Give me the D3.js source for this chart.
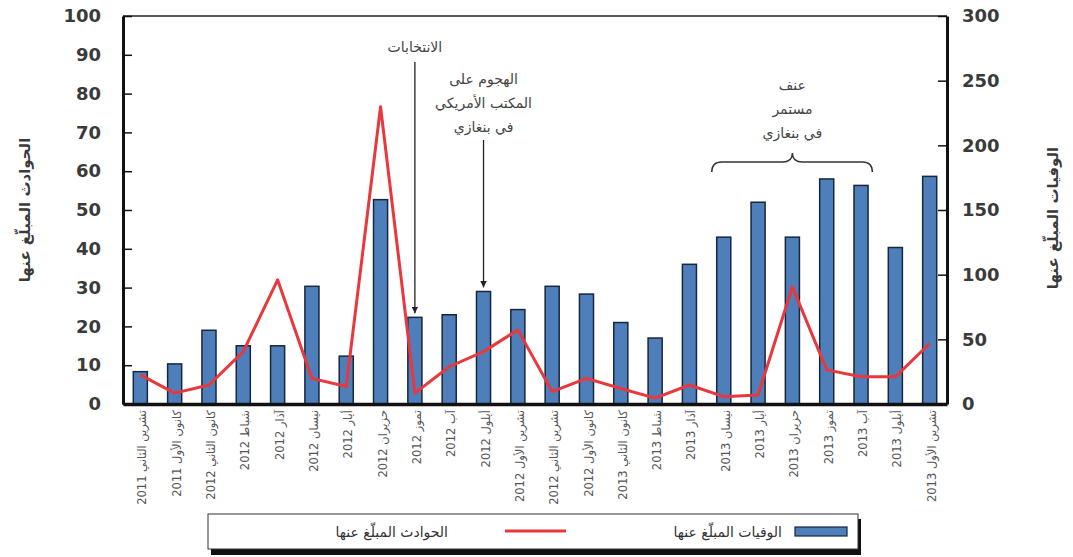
<!DOCTYPE html>
<html><head><meta charset="utf-8">
<script src="https://cdn.jsdelivr.net/npm/d3@7"></script>
<style>
html,body{margin:0;padding:0;background:#fff;}
svg{display:block;font-family:"DejaVu Sans",sans-serif;}
</style></head>
<body>
<svg id="c" width="1073" height="557"></svg>
<script>
const months = ["تشرين الثاني 2011","كانون الأول 2011","كانون الثاني 2012","شباط 2012","آذار 2012","نيسان 2012","أيار 2012","حزيران 2012","تموز 2012","آب 2012","أيلول 2012","تشرين الأول 2012","تشرين الثاني 2012","كانون الأول 2012","كانون الثاني 2013","شباط 2013","آذار 2013","نيسان 2013","أيار 2013","حزيران 2013","تموز 2013","آب 2013","أيلول 2013","تشرين الأول 2013"];
// Reported deaths (bars, right axis)
const deaths = [25,31,57,45,45,91,37,158,67,69,87,73,91,85,63,51,108,129,156,129,174,169,121,176];
// Reported incidents (line, left axis)
const incidents = [7.5,2.8,4.9,13.5,32,6.6,4.5,76.6,2.8,9.6,13.5,19.1,3.2,6.6,4,1.5,4.9,1.9,2.3,30.2,8.8,7,7,15.6];
const leftTicks = [0,10,20,30,40,50,60,70,80,90,100];
const rightTicks = [0,50,100,150,200,250,300];
const leftTitle = "الحوادث المبلّغ عنها";
const rightTitle = "الوفيات المبلّغ عنها";
const legendLabels = ["الوفيات المبلّغ عنها","الحوادث المبلّغ عنها"];
const note1 = ["الانتخابات"];
const note2 = ["الهجوم على","المكتب الأمريكي","في بنغازي"];
const note3 = ["عنف","مستمر","في بنغازي"];

const svg = d3.select("#c");
const L=123, R=947, T=16, B=404;
const barColor="#4f7fbb", barStroke="#17273d", lineColor="#e8383d", textCol="#3a3a3a";

const x = d3.scaleBand().domain(months).range([L,R]).paddingInner(0.59).paddingOuter(0.3);
const yL = d3.scaleLinear().domain([0,100]).range([B,T]);
const yR = d3.scaleLinear().domain([0,300]).range([B,T]);
const cx = m => x(m)+x.bandwidth()/2;

svg.append("defs").append("marker").attr("id","ah").attr("viewBox","0 0 10 10")
  .attr("refX",10).attr("refY",5).attr("markerWidth",5).attr("markerHeight",5)
  .attr("orient","auto").append("path").attr("d","M0,0L10,5L0,10z").attr("fill","#222");

// top border
svg.append("line").attr("x1",L).attr("x2",R).attr("y1",T).attr("y2",T).attr("stroke","#222").attr("stroke-width",1.5);

// bars
svg.append("g").selectAll("rect").data(deaths).join("rect")
  .attr("x",(d,i)=>x(months[i])).attr("width",x.bandwidth())
  .attr("y",d=>yR(d)).attr("height",d=>B-yR(d))
  .attr("fill",barColor).attr("stroke",barStroke).attr("stroke-width",1.5);

// line
svg.append("path").datum(incidents)
  .attr("d",d3.line().x((d,i)=>cx(months[i])).y(d=>yL(d)))
  .attr("fill","none").attr("stroke",lineColor).attr("stroke-width",3).attr("stroke-linejoin","round");

// left axis
const gl = svg.append("g").attr("transform",`translate(${L},0)`)
  .call(d3.axisLeft(yL).tickValues(leftTicks).tickSizeInner(-9).tickSizeOuter(0).tickPadding(22));
gl.select(".domain").attr("stroke","#111").attr("stroke-width",3);
gl.selectAll(".tick line").attr("stroke","#111").attr("stroke-width",1.5);
gl.selectAll(".tick text").attr("font-size",18).attr("font-weight","bold").attr("fill",textCol).attr("font-family","DejaVu Sans");

// right axis
const gr = svg.append("g").attr("transform",`translate(${R},0)`)
  .call(d3.axisRight(yR).tickValues(rightTicks).tickSizeInner(-9).tickSizeOuter(0).tickPadding(15));
gr.select(".domain").attr("stroke","#111").attr("stroke-width",3);
gr.selectAll(".tick line").attr("stroke","#111").attr("stroke-width",1.5);
gr.selectAll(".tick text").attr("font-size",18).attr("font-weight","bold").attr("fill",textCol).attr("font-family","DejaVu Sans");

// bottom axis
const gb = svg.append("g").attr("transform",`translate(0,${B})`)
  .call(d3.axisBottom(x).tickSize(0).tickPadding(0));
gb.select(".domain").attr("stroke","#111").attr("stroke-width",3.5);
gb.selectAll(".tick text").attr("transform","rotate(-90)").attr("x",-6).attr("y",2).attr("dy","0.35em")
  .attr("text-anchor","end").attr("font-size",11.5).attr("fill","#555").attr("font-family","DejaVu Sans");

// axis titles
svg.append("text").attr("transform","translate(30,210) rotate(-90)").attr("text-anchor","middle")
  .attr("font-size",15).attr("font-weight","bold").attr("fill",textCol).text(leftTitle);
svg.append("text").attr("transform","translate(1058,218) rotate(-90)").attr("text-anchor","middle")
  .attr("font-size",15).attr("font-weight","bold").attr("fill",textCol).text(rightTitle);

// annotations
const ann = svg.append("g").attr("fill","#444").attr("font-size",14).attr("text-anchor","middle");
const a1x = cx(months[8]);
ann.append("text").attr("x",a1x).attr("y",52).text(note1[0]);
svg.append("line").attr("x1",a1x).attr("x2",a1x).attr("y1",62).attr("y2",yR(deaths[8])-4)
  .attr("stroke","#222").attr("stroke-width",1.3).attr("marker-end","url(#ah)");
const a2x = cx(months[10]);
note2.forEach((t,i)=>ann.append("text").attr("x",a2x).attr("y",84+i*24).text(t));
svg.append("line").attr("x1",a2x).attr("x2",a2x).attr("y1",140).attr("y2",yR(deaths[10])-4)
  .attr("stroke","#222").attr("stroke-width",1.3).attr("marker-end","url(#ah)");
const bx0 = cx(months[17])-12, bx1 = cx(months[22])-23, bm = cx(months[19]);
note3.forEach((t,i)=>ann.append("text").attr("x",bm).attr("y",90+i*24).text(t));
const by=162;
svg.append("path").attr("d",
  `M${bx0},${by+10} Q${bx0},${by} ${bx0+10},${by} L${bm-10},${by} Q${bm},${by} ${bm},${by-9} Q${bm},${by} ${bm+10},${by} L${bx1-10},${by} Q${bx1},${by} ${bx1},${by+10}`)
  .attr("fill","none").attr("stroke","#333").attr("stroke-width",1.5);

// legend
const lg = svg.append("g");
lg.append("rect").attr("x",211).attr("y",519).attr("width",650).attr("height",36).attr("fill","#111");
lg.append("rect").attr("x",208).attr("y",514).attr("width",650).attr("height",35).attr("fill","#fff").attr("stroke","#333").attr("stroke-width",1);
lg.append("rect").attr("x",795).attr("y",527).attr("width",52).attr("height",9).attr("fill",barColor).attr("stroke",barStroke).attr("stroke-width",1.2);
lg.append("text").attr("x",782).attr("y",537).attr("text-anchor","end").attr("font-size",14).attr("fill","#333").text(legendLabels[0]);
lg.append("line").attr("x1",505).attr("x2",566).attr("y1",531).attr("y2",531).attr("stroke",lineColor).attr("stroke-width",3);
lg.append("text").attr("x",448).attr("y",537).attr("text-anchor","end").attr("font-size",14).attr("fill","#333").text(legendLabels[1]);
</script>
</body></html>
